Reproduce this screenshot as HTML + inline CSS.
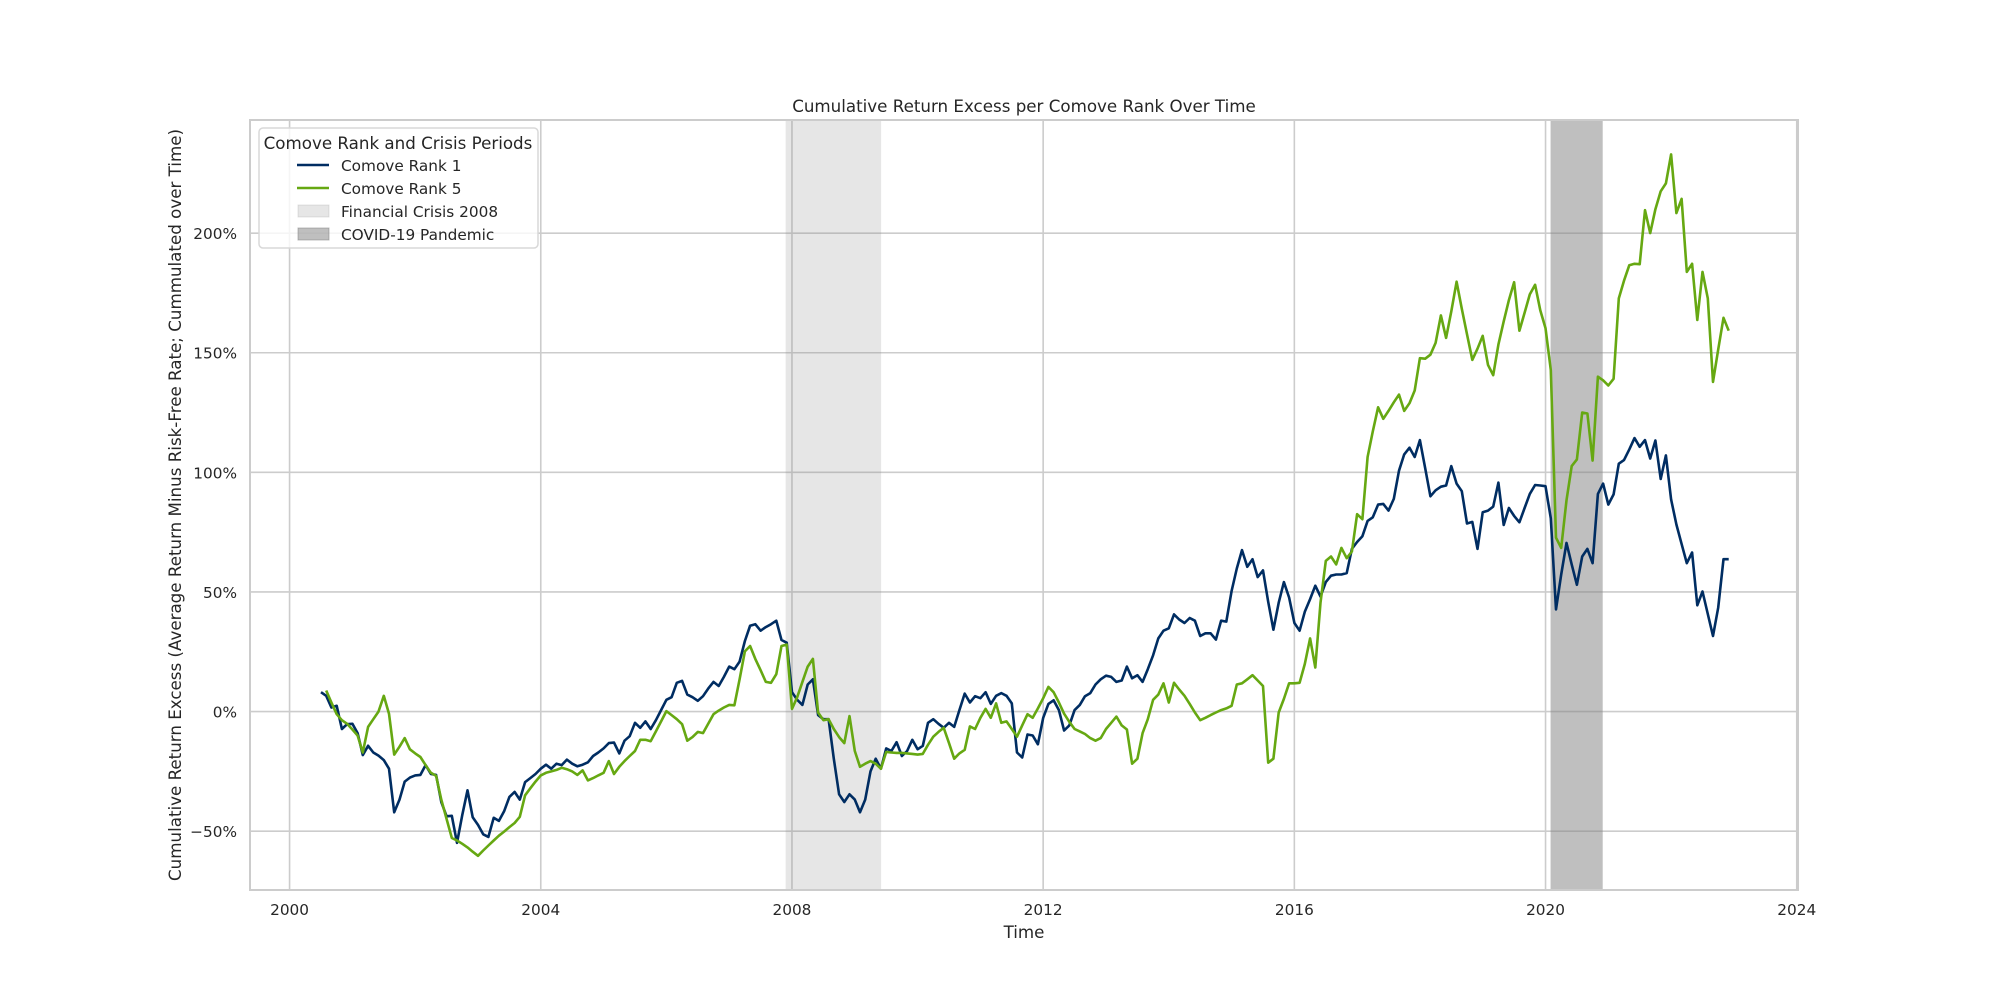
<!DOCTYPE html>
<html><head><meta charset="utf-8">
<style>
html,body{margin:0;padding:0;background:#fff;}
svg{display:block;font-family:"DejaVu Sans","Liberation Sans",sans-serif;}
</style></head>
<body>
<svg id="chart" width="2000" height="1000" viewBox="0 0 2000 1000" xmlns="http://www.w3.org/2000/svg">
<rect x="0" y="0" width="2000" height="1000" fill="#fff"/>
<g id="grid"></g>
<g id="spans"></g>
<g id="lines"></g>
<rect x="250" y="120" width="1548" height="770" fill="none" stroke="#cccccc" stroke-width="2"/>
<g id="ticks" fill="#262626" font-size="15.3"></g>
<text x="1024" y="112" text-anchor="middle" font-size="16.7" fill="#262626">Cumulative Return Excess per Comove Rank Over Time</text>
<text x="1024" y="938" text-anchor="middle" font-size="16.7" fill="#262626">Time</text>
<text transform="translate(181,505) rotate(-90)" text-anchor="middle" font-size="16.7" fill="#262626">Cumulative Return Excess (Average Return Minus Risk-Free Rate; Cummulated over Time)</text>
<g>
<rect x="259" y="128" width="279" height="120" rx="4" fill="#fff" fill-opacity="0.8" stroke="#d8d8d8" stroke-width="1.5"/>
<text x="398" y="149" text-anchor="middle" font-size="16.7" fill="#262626">Comove Rank and Crisis Periods</text>
<line x1="297" y1="165" x2="329" y2="165" stroke="#002d62" stroke-width="2.5"/>
<text x="341" y="171" font-size="15.3" fill="#262626">Comove Rank 1</text>
<line x1="297" y1="188" x2="329" y2="188" stroke="#66a812" stroke-width="2.5"/>
<text x="341" y="194" font-size="15.3" fill="#262626">Comove Rank 5</text>
<rect x="298" y="205" width="31" height="12" fill="#808080" fill-opacity="0.2" stroke="#808080" stroke-opacity="0.2"/>
<text x="341" y="217" font-size="15.3" fill="#262626">Financial Crisis 2008</text>
<rect x="298" y="228" width="31" height="12" fill="#808080" fill-opacity="0.5" stroke="#808080" stroke-opacity="0.5"/>
<text x="341" y="240" font-size="15.3" fill="#262626">COVID-19 Pandemic</text>
</g>
</svg>
<script>
const xTicks = [2000, 2004, 2008, 2012, 2016, 2020, 2024];
const yTicks = [-50, 0, 50, 100, 150, 200];
const yTickLabels = ["\u221250%", "0%", "50%", "100%", "150%", "200%"];
const rank1Start = [2000, 7];
const rank5Start = [2000, 8];
const spanNames = ["financial-crisis-2008", "covid-19-pandemic"];
const spanStart = [2007.9, 2020.08];
const spanEnd = [2009.42, 2020.91];
const spanAlpha = [0.2, 0.5];
const rank1 = [8.1,6.6,1.7,2.4,-7.3,-5.3,-5.1,-9.0,-18.2,-14.3,-17.1,-18.4,-20.3,-23.9,-42.1,-36.8,-29.3,-27.6,-26.7,-26.5,-22.4,-26.1,-26.5,-37.8,-43.8,-43.6,-54.9,-43.2,-32.9,-44.2,-47.4,-51.3,-52.4,-44.4,-45.7,-41.7,-35.7,-33.6,-36.8,-29.5,-27.8,-26.1,-23.9,-22.2,-23.9,-21.8,-22.4,-20.1,-21.8,-22.9,-22.2,-21.2,-18.6,-17.1,-15.4,-13.2,-13.0,-17.5,-12.2,-10.3,-4.7,-6.8,-4.1,-7.3,-3.6,0.6,4.9,6.0,12.0,12.8,7.1,6.0,4.5,6.4,9.6,12.4,10.7,14.5,18.8,17.7,20.9,29.5,35.9,36.5,33.8,35.3,36.5,38.0,29.9,28.8,8.1,4.9,2.8,11.3,13.5,-1.5,-3.2,-3.2,-19.7,-34.6,
-37.8,-34.6,-36.8,-42.1,-36.8,-25.0,-19.7,-23.9,-15.4,-16.5,-12.8,-18.6,-16.5,-11.8,-15.8,-14.3,-4.7,-3.2,-5.1,-6.8,-4.7,-6.4,0.6,7.5,3.8,6.4,5.6,8.1,3.2,6.6,7.7,6.6,3.4,-17.1,-19.2,-9.6,-10.0,-13.7,-2.6,3.2,4.7,0.6,-7.9,-5.8,0.6,2.8,6.4,7.7,11.3,13.5,15.0,14.5,12.4,13.0,18.8,13.9,15.2,12.4,17.7,23.5,30.6,33.8,34.8,40.6,38.5,37.0,39.1,38.0,31.6,32.7,32.7,30.1,38.0,37.6,50.4,59.8,67.5,60.5,63.7,56.2,59.0,45.9,34.2,45.5,54.1,47.7,37.0,
33.8,41.7,47.0,52.6,48.1,54.1,56.8,57.3,57.3,57.9,68.0,70.9,73.3,79.7,81.2,86.5,86.8,84.0,88.9,100.7,107.5,110.3,106.4,113.5,101.7,90.0,92.5,94.0,94.5,102.6,95.3,92.1,78.6,79.3,68.0,83.3,84.0,85.7,95.7,78.0,85.1,81.8,79.1,85.1,91.0,94.7,94.5,94.2,80.8,42.7,57.3,70.5,61.5,53.0,64.8,68.0,62.0,91.0,95.3,86.5,90.8,103.6,105.1,109.6,114.3,110.7,113.5,105.8,113.3,97.2,107.1,88.7,78.2,70.1,62.0,66.5,44.4,50.2,40.8,31.6,43.4,63.7,63.7];
const rank5 = [8.8,3.8,-1.1,-3.6,-5.1,-7.5,-10.0,-17.1,-6.4,-3.2,0.0,6.6,-0.9,-18.0,-14.7,-11.1,-15.8,-17.5,-19.0,-22.4,-25.6,-26.9,-36.8,-44.9,-52.8,-53.9,-55.3,-56.8,-58.6,-60.3,-58.1,-56.0,-53.9,-51.9,-50.2,-48.3,-46.6,-44.0,-35.0,-32.1,-29.3,-26.7,-25.6,-25.0,-24.4,-23.5,-24.1,-25.0,-26.5,-24.6,-28.8,-27.8,-26.7,-25.6,-20.7,-26.1,-23.1,-20.7,-18.6,-16.5,-11.8,-11.8,-12.4,-8.3,-4.1,0.2,-1.5,-3.2,-5.3,-12.2,-10.7,-8.5,-9.0,-5.1,-1.1,0.4,1.7,2.8,2.6,13.5,25.2,27.4,22.0,17.3,12.4,12.0,15.6,27.4,28.0,1.1,6.0,12.4,18.8,22.0,-0.4,-3.6,-3.2,-7.3,-10.7,
-13.2,-1.9,-16.5,-23.1,-21.8,-20.7,-21.8,-23.9,-16.9,-17.1,-17.3,-17.3,-17.5,-17.7,-18.0,-17.7,-13.9,-10.5,-8.5,-6.8,-13.2,-19.7,-17.5,-16.0,-6.2,-7.3,-2.6,1.1,-2.6,3.4,-4.7,-4.1,-7.3,-10.5,-5.8,-1.1,-2.6,1.3,5.6,10.3,8.1,3.8,-0.9,-4.3,-7.3,-8.3,-9.4,-11.1,-12.2,-11.1,-7.3,-4.7,-2.1,-5.8,-7.5,-21.8,-19.7,-9.0,-3.2,4.9,7.1,11.8,3.8,12.0,9.2,6.6,3.2,-0.4,-3.6,-2.6,-1.5,-0.4,0.6,1.3,2.4,11.3,11.8,13.5,15.2,13.0,10.7,-21.4,-19.7,-0.4,5.3,11.8,11.8,
12.0,19.9,30.6,18.4,45.5,63.0,64.8,61.5,68.4,64.1,66.9,82.5,80.4,106.4,117.1,127.2,122.4,125.7,129.3,132.5,125.7,128.9,134.2,147.7,147.5,149.2,154.1,165.6,156.2,167.3,179.7,168.4,157.7,147.0,151.7,157.1,144.9,140.6,153.4,163.1,172.0,179.5,159.2,166.7,174.4,178.4,167.7,160.3,142.8,72.7,68.4,88.3,102.6,105.4,125.0,124.6,104.9,140.0,138.5,136.3,139.1,172.7,180.1,186.6,187.2,187.0,209.6,200.0,210.0,217.5,220.8,232.9,208.4,214.3,183.8,187.2,163.7,183.8,172.7,137.8,151.3,164.6,159.2];

const NS = "http://www.w3.org/2000/svg";
const L = 250, R = 1798, T = 120, B = 890;
const X0 = 1999.37, X1 = 2024.02, Y0 = -74.6, Y1 = 247.3;
function xs(t){ return L + (t - X0) / (X1 - X0) * (R - L); }
function ys(v){ return B - (v - Y0) / (Y1 - Y0) * (B - T); }
function mk(tag, attrs, parent){ const e = document.createElementNS(NS, tag); for (const k in attrs) e.setAttribute(k, attrs[k]); parent.appendChild(e); return e; }
function monthTime(start, i){ return start[0] + (start[1] - 1 + i) / 12; }

const grid = document.getElementById('grid');
xTicks.forEach(t => {
  const ln = mk('line', {x1: xs(t), x2: xs(t), y1: T, y2: B, stroke: '#cccccc', 'stroke-width': 1.6}, grid);
  
  
});
yTicks.forEach(v => {
  const ln = mk('line', {x1: L, x2: R, y1: ys(v), y2: ys(v), stroke: '#cccccc', 'stroke-width': 1.6}, grid);
  
  
});

const spans = document.getElementById('spans');
spanStart.forEach((s, i) => {
  const r = mk('rect', {x: xs(s), y: T, width: xs(spanEnd[i]) - xs(s), height: B - T, fill: '#808080', 'fill-opacity': spanAlpha[i]}, spans);
  
  
});

const lines = document.getElementById('lines');
function drawSeries(vals, start, color, name){
  const d = vals.map((v, i) => (i ? 'L' : 'M') + xs(monthTime(start, i)).toFixed(1) + ',' + ys(v).toFixed(1)).join(' ');
  const p = mk('path', {d: d, fill: 'none', stroke: color, 'stroke-width': 2.6, 'stroke-linejoin': 'round'}, lines);
  
  
}
drawSeries(rank1, rank1Start, '#002d62', 'comove-rank-1-line');
drawSeries(rank5, rank5Start, '#66a812', 'comove-rank-5-line');

const ticks = document.getElementById('ticks');
xTicks.forEach(t => {
  const tx = mk('text', {x: xs(t), y: 915, 'text-anchor': 'middle'}, ticks);
  tx.textContent = String(t);
  
  
});
yTicks.forEach((v, i) => {
  const tx = mk('text', {x: 237, y: ys(v) + 6, 'text-anchor': 'end'}, ticks);
  tx.textContent = yTickLabels[i];
  
  
});
</script>
</body></html>
